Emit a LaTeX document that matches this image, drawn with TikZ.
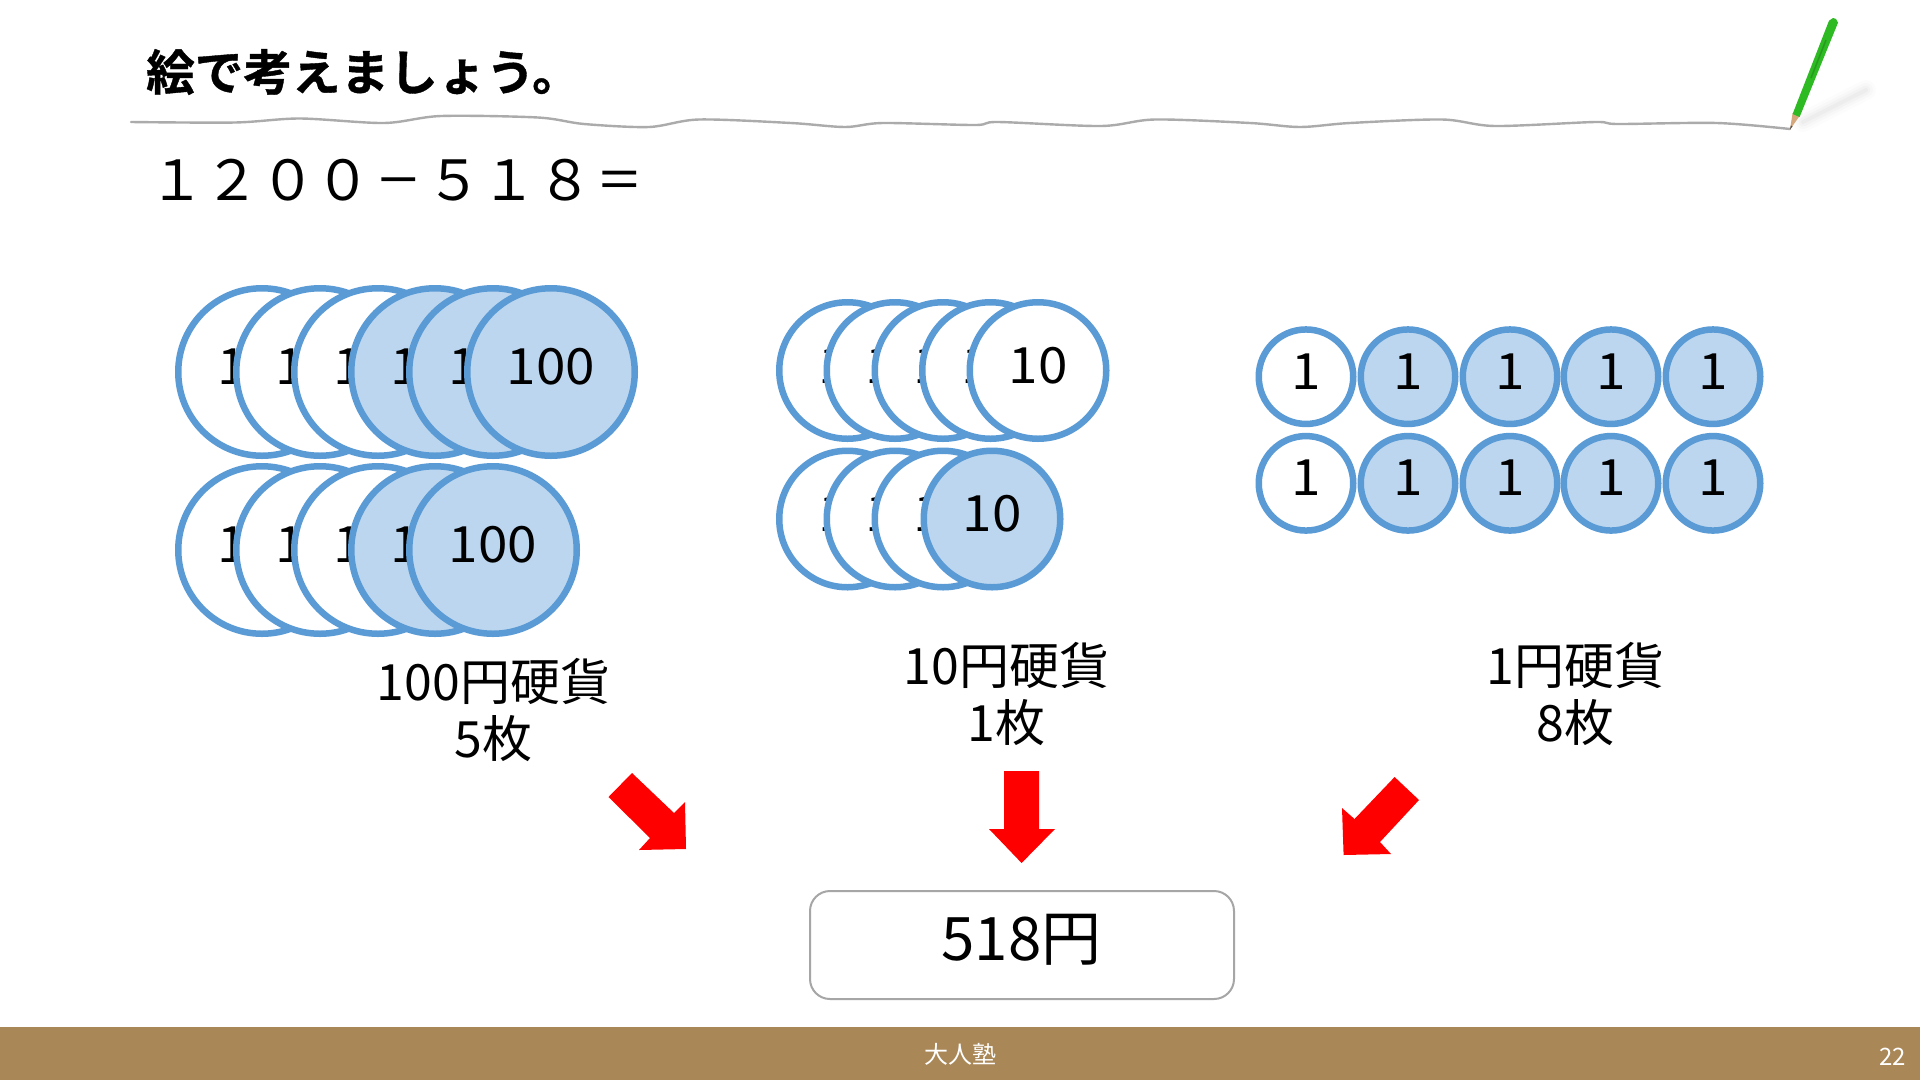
\documentclass[tikz,border=0pt]{standalone}
\usepackage{fontspec}
\setmainfont{Noto Sans CJK JP}
\newfontfamily\boldjp[FakeBold=0.8]{Noto Sans CJK JP Bold}
\newfontfamily\coinfont[FakeStretch=1.06]{Noto Sans CJK JP}
\usetikzlibrary{shapes.geometric}
\definecolor{coinblue}{HTML}{5B9BD5}
\definecolor{coinfill}{HTML}{BCD6EF}
\definecolor{footerbrown}{HTML}{A98757}
\definecolor{pencilgreen}{HTML}{2DBA22}
\definecolor{pencildark}{HTML}{289A20}
\definecolor{pencilwood}{HTML}{D6A77C}
\tikzset{
  coin/.style={circle,draw=coinblue,line width=6.5pt,inner sep=0pt,outer sep=0pt,fill=white,
    font=\coinfont\fontsize{50}{50}\selectfont,text height=37pt,text depth=12pt,text=black},
  bigc/.style={coin,minimum size=167.5pt},
  midc/.style={coin,minimum size=136.5pt},
  smallc/.style={coin,minimum size=94.5pt},
  lit/.style={fill=coinfill},
  redarrow/.style={fill=red,draw=none},
  captext/.style={font=\fontsize{50}{57}\selectfont,align=center,inner sep=0pt,text=black},
  handline/.style={draw=black!33,line width=2.4pt,line join=round,line cap=round}
}
\newcommand{\narrowch}[1]{\makebox[1em]{\scalebox{0.84}[1]{#1}}}
\begin{document}
\begin{tikzpicture}[x=1pt,y=-1pt]
\useasboundingbox (0,0) rectangle (1920,1080);
\fill[white] (0,0) rectangle (1920,1080);
% pencil shadow
\foreach \w/\o in {20/.012,14/.016,9/.02,4/.025}{
  \draw[line width=\w pt,line cap=round,black,opacity=\o] (1803,122) -- (1866,90);
}
% hand-drawn rule
\draw[handline] plot[smooth,tension=.5] coordinates {(131,122) (235,122.5) (300,118.5) (384,123) (441,116) (538,117.5) (584,124) (649,127)
 (699,119.5) (791,123) (845,127) (883,123) (975,125) (998,122) (1101,126) (1155,119.5) (1250,123) (1300,127) (1350,123) (1442,119.5)
 (1495,126) (1595,122) (1618,124) (1717,123) (1790,129)};
% pencil
\fill[pencilwood] (1790,129.5) -- (1792.6,113) -- (1799.6,116) -- cycle;
\fill[black!70] (1790,129.5) -- (1790.8,125.5) -- (1792.6,126.3) -- cycle;
\fill[pencilgreen] (1792.6,114) -- (1799.6,117) -- (1838,22.7) -- (1836,19) -- (1833,18) -- (1829,20.7) -- cycle;
\draw[pencildark,line width=1.5pt] (1811,78) -- (1826,40);
% title and equation
\node[inner sep=0pt,anchor=west,font=\boldjp\fontsize{48.6}{50}\selectfont] (title) at (146,72) {絵で考えましょう。};
\node[inner sep=0pt,anchor=west,font=\fontsize{55.4}{60}\selectfont] (eq) at (149,180) {１２００\narrowch{－}５１８\narrowch{＝}};
% 100 coins
\foreach \i/\x/\s in {1/262/,2/320/,3/378/,4/435/lit,5/493/lit,6/551/lit}{
  \node[bigc,\s] (h\i) at (\x,372) {100};
}
\foreach \i/\x/\s in {1/262/,2/320/,3/378/,4/435/lit,5/493/lit}{
  \node[bigc,\s] (k\i) at (\x,550) {100};
}
% 10 coins
\foreach \i/\x/\s in {1/847.5/,2/895/,3/943/,4/990.5/,5/1038/}{
  \node[midc,\s] (t\i) at (\x,370.5) {10};
}
\foreach \i/\x/\s in {1/847.5/,2/895/,3/943/,4/992/lit}{
  \node[midc,\s] (u\i) at (\x,519) {10};
}
% 1 coins
\foreach \i/\x/\s in {1/1306/,2/1408/lit,3/1510/lit,4/1611/lit,5/1713/lit}{
  \node[smallc,\s] (o\i) at (\x,376.7) {1};
  \node[smallc,\s] (p\i) at (\x,483.3) {1};
}
% captions
\node[captext] (c100) at (493.5,710) {100円硬貨\\5枚};
\node[captext] (c10) at (1006.5,694) {10円硬貨\\1枚};
\node[captext] (c1) at (1575.5,694) {1円硬貨\\8枚};
% arrows
\fill[redarrow] (632,773) -- (608.5,797) -- (650,838) -- (639,850) -- (686,849) -- (685,802) -- (674,813) -- cycle;
\fill[redarrow] (1004,771) -- (1039,771) -- (1039,829) -- (1055,829) -- (1021.6,863) -- (989,829) -- (1004,829) -- cycle;
\fill[redarrow] (1394.6,777) -- (1419,800) -- (1380,842) -- (1391,854) -- (1343.6,855) -- (1342,808) -- (1354.5,819) -- cycle;
% result
\node[draw=black!35,line width=2pt,rounded corners=20pt,fill=white,minimum width=424pt,minimum height=108pt,inner sep=0pt] (res) at (1022,945) {};
\node[inner sep=0pt,font=\fontsize{60}{60}\selectfont] (restext) at (1021.5,940) {518円};
% footer
\fill[footerbrown] (0,1027) rectangle (1920,1080);
\node[inner sep=0pt,text=white,font=\fontsize{24}{24}\selectfont] (foot) at (960,1054) {大人塾};
\node[inner sep=0pt,text=white,font=\fontsize{24}{24}\selectfont] (page) at (1892.5,1057) {22};
\end{tikzpicture}
\end{document}
